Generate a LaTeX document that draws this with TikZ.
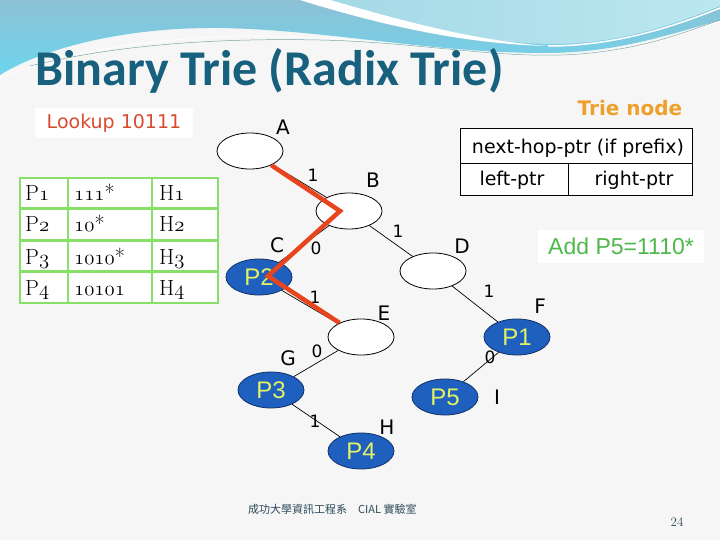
\documentclass[tikz,border=0pt]{standalone}
\usepackage{fontspec}
\newfontfamily\titlefont{Carlito}
\newfontfamily\comicfont{DejaVu Sans}
\newfontfamily\arialfont{Liberation Sans}
\newfontfamily\cjkfont{Noto Sans CJK TC}
\usetikzlibrary{shapes.geometric}
\newcommand\osnum[1]{{\usefont{OML}{cmm}{m}{it}#1}}
\definecolor{bgc}{HTML}{F6F6F6}
\definecolor{waveA}{HTML}{8CC1D5}
\definecolor{waveB}{HTML}{6DD5EE}
\definecolor{waveC}{HTML}{A3D9E6}
\definecolor{waveD}{HTML}{BCE7F0}
\definecolor{titlec}{HTML}{17607E}
\definecolor{lookred}{HTML}{D84C2E}
\definecolor{trieorange}{HTML}{EFA02C}
\definecolor{addgreen}{HTML}{4FB84A}
\definecolor{tgreen}{HTML}{88E068}
\definecolor{nodeblue}{HTML}{1F5FBD}
\definecolor{navy}{HTML}{10306A}
\definecolor{ptext}{HTML}{E2F266}
\definecolor{redpathc}{HTML}{E8441E}
\definecolor{footc}{HTML}{2B4A5A}
\begin{document}
\begin{tikzpicture}[x=1pt,y=-1pt,
  trie/.style={ellipse, line width=0.8pt, minimum width=66pt, minimum height=36pt, inner sep=0pt},
  hollow/.style={trie, draw=black, fill=white},
  pref/.style={trie, draw=navy, fill=nodeblue, text=ptext, font=\arialfont\fontsize{24}{24}\selectfont},
  lbl/.style={font=\comicfont\fontsize{20}{20}\selectfont, inner sep=0pt},
  bit/.style={font=\comicfont\fontsize{17}{17}\selectfont, inner sep=0pt},
  tedge/.style={draw=black, line width=0.7pt},
  redpath/.style={draw=redpathc, line width=4.5pt, line join=miter},
  tcell/.style={anchor=base west, inner sep=0pt, font=\fontsize{22}{22}\selectfont},
  tgrid/.style={draw=tgreen, line width=2.5pt},
  boxtxt/.style={font=\comicfont\fontsize{19}{19}\selectfont, inner sep=0pt}
]
\fill[bgc] (0,0) rectangle (720,540);
\useasboundingbox (0,0) rectangle (720,540);
% top decoration
\shade[top color=waveA, bottom color=waveB] (0,0) -- (720,0) -- (720,20)
  .. controls (660,38) and (610,53) .. (545,53)
  .. controls (430,53) and (330,30) .. (220,28)
  .. controls (120,27) and (40,50) .. (0,75) -- cycle;
\shade[left color=waveC, right color=waveD] (318,0)
  .. controls (400,22) and (470,42) .. (548,44)
  .. controls (620,45) and (680,22) .. (720,6) -- (720,0) -- cycle;
\fill[white] (300,0) .. controls (390,28) and (470,44) .. (548,46)
  .. controls (470,40) and (400,20) .. (330,0) -- cycle;
\draw[white, line width=1.5pt] (548,46) .. controls (620,46) and (680,24) .. (720,8);
\draw[white, line width=1pt, opacity=0.8] (0,78) .. controls (60,52) and (160,36) .. (260,36)
  .. controls (380,36) and (470,58) .. (560,55) .. controls (640,52) and (690,30) .. (720,22);
\draw[black!30!teal, line width=0.5pt, opacity=0.5] (30,66) .. controls (120,44) and (220,38) .. (320,40)
  .. controls (420,42) and (500,60) .. (580,54) .. controls (650,48) and (690,30) .. (720,20);

% title
\node[anchor=base west, inner sep=0pt, text=titlec, font=\titlefont\bfseries\fontsize{50}{50}\selectfont] (title) at (35,86) {Binary Trie (Radix Trie)};

% lookup
\fill[white] (35,108) rectangle (193,138);
\node[text=lookred, font=\comicfont\fontsize{19}{19}\selectfont, inner sep=0pt] (lookup) at (114,123) {Lookup 10111};

% table
\fill[white] (20,178) rectangle (218,303);
\draw[tgrid] (20,178) rectangle (218,303);
\draw[tgrid] (20,208.5) -- (218,208.5) (20,240.5) -- (218,240.5) (20,271.5) -- (218,271.5);
\draw[tgrid] (68,178) -- (68,303) (152,178) -- (152,303);
\node[tcell] (p1) at (25,201) {P\osnum{1}};
\node[tcell] (q1) at (74,201) {\osnum{111}*};
\node[tcell] (h1) at (159,201) {H\osnum{1}};
\node[tcell] (p2) at (25,232) {P\osnum{2}};
\node[tcell] (q2) at (74,232) {\osnum{10}*};
\node[tcell] (h2) at (159,232) {H\osnum{2}};
\node[tcell] (p3) at (25,264) {P\osnum{3}};
\node[tcell] (q3) at (74,264) {\osnum{1010}*};
\node[tcell] (h3) at (159,264) {H\osnum{3}};
\node[tcell] (p4) at (25,295) {P\osnum{4}};
\node[tcell] (q4) at (74,295) {\osnum{10101}};
\node[tcell] (h4) at (159,295) {H\osnum{4}};

% trie node legend
\node[text=trieorange, font=\comicfont\bfseries\fontsize{20}{20}\selectfont, inner sep=0pt] (trienode) at (630,108) {Trie node};
\fill[white] (460,128) rectangle (692,195);
\draw[black, line width=0.8pt] (460,128) rectangle (692,195);
\draw[black, line width=0.8pt] (460,163) -- (692,163) (568,163) -- (568,195);
\node[boxtxt] (nh) at (578,148) {next-hop-ptr (if prefix)};
\node[boxtxt] (lp) at (512,180) {left-ptr};
\node[boxtxt] (rp) at (634,180) {right-ptr};

% add
\fill[white] (538,230) rectangle (704,263);
\node[text=addgreen, font=\arialfont\fontsize{23}{23}\selectfont, inner sep=0pt] (add) at (621,246) {Add P5=1110*};

% trie nodes
\node[hollow] (A) at (250,151) {};
\node[hollow] (B) at (349,211) {};
\node[pref] (C) at (259,277) {P2};
\node[hollow] (D) at (433,271) {};
\node[hollow] (E) at (361,337) {};
\node[pref] (F) at (517,337) {P1};
\node[pref] (G) at (271,390) {P3};
\node[pref] (H) at (361,451) {P4};
\node[pref] (I) at (445,397) {P5};

% edges
\draw[tedge] (A) -- (B);
\draw[tedge] (B) -- (C);
\draw[tedge] (B) -- (D);
\draw[tedge] (C) -- (E);
\draw[tedge] (D) -- (F);
\draw[tedge] (E) -- (G);
\draw[tedge] (G) -- (H);
\draw[tedge] (F) -- (I);

% node letters
\node[lbl] (lA) at (283,127) {A};
\node[lbl] (lB) at (373,180) {B};
\node[lbl] (lC) at (277,245) {C};
\node[lbl] (lD) at (462,246) {D};
\node[lbl] (lE) at (384,313) {E};
\node[lbl] (lF) at (540,306) {F};
\node[lbl] (lG) at (288,358) {G};
\node[lbl] (lH) at (387,427) {H};
\node[lbl] (lI) at (497,397) {I};

% bits
\node[bit] (bAB) at (313,175) {1};
\node[bit] (bBC) at (316,248) {0};
\node[bit] (bBD) at (398,231) {1};
\node[bit] (bCE) at (315,297) {1};
\node[bit] (bDF) at (489,291) {1};
\node[bit] (bEG) at (317,351) {0};
\node[bit] (bGH) at (315,421) {1};
\node[bit] (bFI) at (490,357) {0};

% lookup path
\coordinate (rb) at (340,211);
\coordinate (rc) at (268,276);
\draw[redpath] (A) -- (rb) -- (rc) -- (E);

% footer
\node[text=footc, font=\cjkfont\fontsize{11}{11}\selectfont, inner sep=0pt, anchor=west] (foot) at (248,509) {成功大學資訊工程系\quad CIAL 實驗室};
\node[text=footc, font=\fontsize{13}{13}\selectfont, inner sep=0pt] (pg) at (677,522) {24};
\end{tikzpicture}
\end{document}
